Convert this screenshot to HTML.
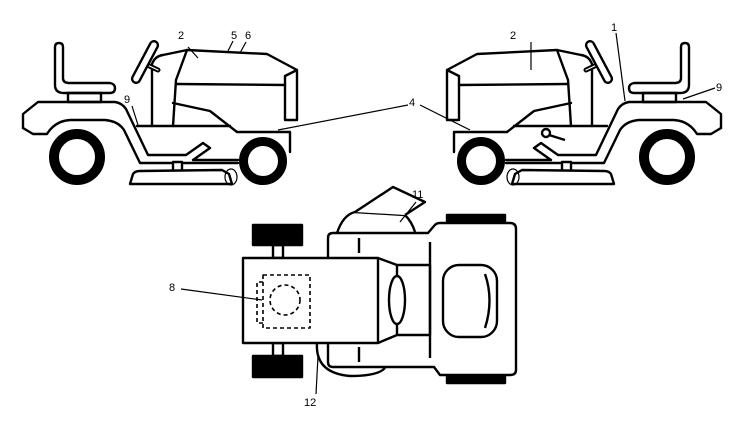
<!DOCTYPE html>
<html><head><style>html,body{margin:0;padding:0;background:#fff}svg{display:block}text{font-family:"Liberation Sans",sans-serif;font-size:11px;fill:#000}</style></head>
<body>
<svg width="750" height="430" viewBox="0 0 750 430" xmlns="http://www.w3.org/2000/svg">
<defs>
<g id="m" fill="none" stroke="#000" stroke-width="2.4" stroke-linejoin="round" stroke-linecap="round">
  <path d="M55,47 Q55,43 59,43 Q63,43 63,47 L63,78 Q63,83 69,83 L110,83 Q115,84 115,88 Q115,93 110,93 L64,93 Q55,93 55,85 Z" fill="#fff"/>
  <rect x="68" y="93" width="33" height="9"/>
  <path d="M23,128 L23,114 L38,102 L115,102 Q122,103 126,109 L148,155 L186,155 L203,143 L210,148 L193,160 L238,160"/>
  <path d="M23,128 L33,134 L47,134 Q55,121 70,120 L105,120 Q118,121 124,130 L140,163 L238,163"/>
  <path d="M137,126 L230,126"/>
  <path d="M173,103 L210,111 L237,132 L290,132 L290,152"/>
  <path d="M163,55 L187,50 L267,54 L297,70 L297,120 L285,120 L285,76 L297,70"/>
  <path d="M177,84 L285,85"/>
  <path d="M187,50 L176,80 L173,126"/>
  <path d="M152,126 L152,64 Q155,56 163,55"/>
  <path d="M143,63 L158,70" stroke-width="5"/>
  <path d="M143,63 L158,70" stroke="#fff" stroke-width="1.2"/>
  <rect x="122" y="58" width="46" height="8" rx="4" transform="rotate(-62 145 62)" fill="#fff"/>
  <circle cx="77" cy="157" r="23" stroke-width="10" fill="#fff"/>
  <circle cx="263" cy="161" r="19.5" stroke-width="9" fill="#fff"/>
  <rect x="173" y="162" width="9" height="9" fill="#fff"/>
  <path d="M130,184 L133,174 Q135,171 140,171 L222,170 L229,174 L232,184 Z" fill="#fff"/>
  <ellipse cx="231" cy="177" rx="6" ry="8" stroke-width="1.2"/>
</g>
</defs>
<use href="#m"/>
<use href="#m" transform="translate(744,0) scale(-1,1)"/>
<g fill="none" stroke="#000" stroke-width="2.4" stroke-linejoin="round">
  <circle cx="546" cy="133" r="4" fill="#fff"/>
  <path d="M549,135 L565,140"/>
</g>
<!-- labels left/right -->
<g stroke="#000" stroke-width="1.2" fill="none">
  <path d="M188,47 L198,58"/>
  <path d="M233,41 L227,53"/>
  <path d="M246,42 L240,53"/>
  <path d="M132,106 L138,125"/>
  <path d="M408,105 L278,130"/>
  <path d="M420,105 L470,130"/>
  <path d="M616,33 L625,101"/>
  <path d="M531,42 L531,70"/>
  <path d="M715,88 L683,99"/>
</g>
<text x="178" y="39">2</text><text x="231" y="39">5</text><text x="245" y="39">6</text>
<text x="124" y="103">9</text><text x="409" y="106">4</text>
<text x="510" y="39">2</text><text x="611" y="31">1</text><text x="716" y="91">9</text>
<!-- top view -->
<g fill="none" stroke="#000" stroke-width="2.4" stroke-linejoin="round">
  <rect x="253" y="225" width="49" height="20" fill="#000"/>
  <rect x="253" y="356" width="49" height="21" fill="#000"/>
  <rect x="447" y="215" width="58" height="8" fill="#000"/>
  <rect x="447" y="375" width="58" height="8" fill="#000"/>
  <rect x="273" y="245" width="10" height="13"/>
  <rect x="273" y="343" width="10" height="13"/>
  <path d="M317,343 Q315,373 350,376 Q378,376 385,368"/>
  <path d="M337,233 Q343,215 355,212 L405,215 Q412,222 415,232"/>
  <path d="M355,212 L393,187 L425,202 L405,215" fill="#fff"/>
  <path d="M333,233 L428,233 L434,226 Q436,223 440,223 L510,223 Q516,223 516,229 L516,370 Q516,375 510,375 L440,375 L434,367 L333,367 Q328,367 328,362 L328,238 Q328,233 333,233 Z" fill="#fff"/>
  <path d="M430,242 L430,358"/>
  <path d="M359,238 L359,253 M359,347 L359,362"/>
  <rect x="243" y="258" width="135" height="85" fill="#fff"/>
  <path d="M378,258 L397,265 L430,265 L430,335 L397,335 L378,343"/>
  <path d="M397,265 L397,335"/>
  <ellipse cx="397" cy="300" rx="8" ry="24" fill="#fff"/>
  <rect x="443" y="265" width="54" height="72" rx="16"/>
  <path d="M485,274 Q494,300 485,328"/>
  <g stroke-width="1.6" stroke-dasharray="4,3">
    <rect x="263" y="275" width="47" height="53"/>
    <path d="M263,282 L257,282 L257,323 L263,323"/>
    <circle cx="285" cy="300" r="15"/>
  </g>
</g>
<g stroke="#000" stroke-width="1.2" fill="none">
  <path d="M181,289 L262,300"/>
  <path d="M416,202 L400,222"/>
  <path d="M316,394 L318,356"/>
</g>
<text x="169" y="291">8</text><text x="412" y="198">11</text><text x="304" y="406">12</text>
</svg>
</body></html>
